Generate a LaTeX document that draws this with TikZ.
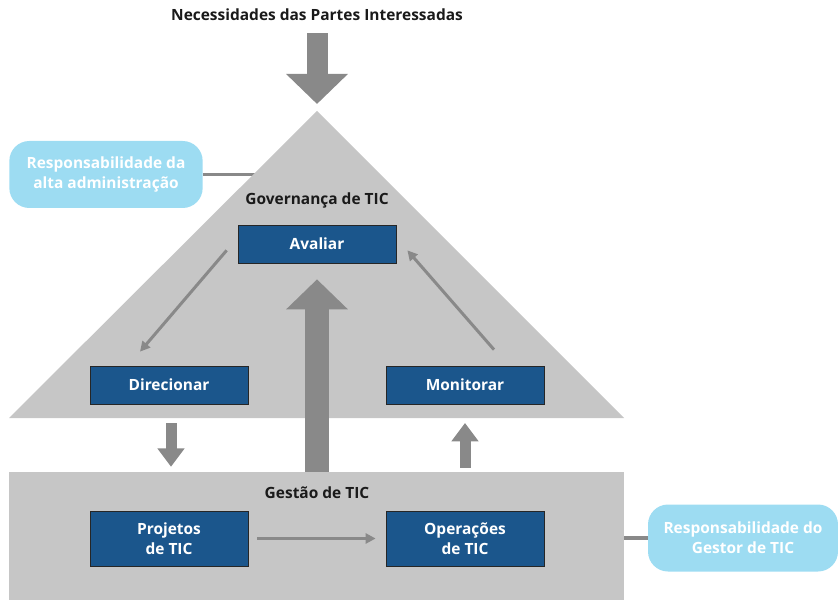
\documentclass[tikz,border=0pt]{standalone}
\usepackage{fontspec}
\setmainfont{Open Sans}
\usetikzlibrary{positioning, calc, arrows.meta}

\definecolor{govgray}{HTML}{C6C6C6}
\definecolor{arrowgray}{HTML}{898989}
\definecolor{boxblue}{HTML}{1B568C}
\definecolor{pillblue}{HTML}{9DDCF2}
\definecolor{labelblack}{HTML}{1A1A1A}

\tikzset{
  label text/.style={text=labelblack, font=\fontsize{13.2}{17}\selectfont\bfseries},
  procbox/.style={draw=black!85, line width=0.6pt, fill=boxblue, text=white, align=center,
    minimum width=4.74cm, minimum height=1.14cm, inner sep=0pt,
    font=\fontsize{13.2}{17}\selectfont\bfseries},
  pill/.style={fill=pillblue, text=white, align=center, rounded corners=0.6cm,
    minimum width=5.8cm, minimum height=2.01cm, inner sep=0pt,
    font=\fontsize{13.2}{17}\selectfont\bfseries},
  thinarrow/.style={arrowgray, line width=0.09cm, -{Triangle[length=0.3cm, width=0.3cm]}},
  fatarrow/.style={arrowgray, line width=0.7cm, -{Triangle[length=0.9cm, width=1.8cm]}},
  smallarrow/.style={arrowgray, line width=0.33cm, -{Triangle[length=0.55cm, width=0.78cm]}},
  tie/.style={arrowgray, line width=0.11cm}
}

\begin{document}
\begin{tikzpicture}[x=0.03cm, y=-0.03cm]
  \useasboundingbox (0,0) rectangle (838,600);

  % Responsabilidade da alta administracao
  \node[pill] (altaadm) at (106,174.5) {Responsabilidade da\\alta administração};
  \coordinate (apex) at (317,111);
  \coordinate (govL) at (9,418);
  \coordinate (govR) at (624,418);
  \draw[tie] (altaadm.east) -- (altaadm.east -| apex);

  % Governanca triangle
  \fill[govgray] (apex) -- (govR) -- (govL) -- cycle;
  \node[label text] (govlabel) at (317,200) {Governança de TIC};

  \node[procbox] (avaliar) at (317,244) {Avaliar};
  \node[procbox] (direcionar) at (169,385) {Direcionar};
  \node[procbox] (monitorar) at (465,385) {Monitorar};

  % Gestao rectangle
  \node[fill=govgray, minimum width=18.45cm, minimum height=3.9cm, inner sep=0pt] (gestao) at (316.5,537) {};
  \node[label text] (gestlabel) at (317,493) {Gestão de TIC};

  \node[procbox, minimum height=1.65cm] (projetos) at (169,538.5) {Projetos\\de TIC};
  \node[procbox, minimum height=1.65cm] (operacoes) at (465,538.5) {Operações\\de TIC};

  % Responsabilidade do gestor
  \node[pill, minimum width=5.7cm] (gestor) at (743,538) {Responsabilidade do\\Gestor de TIC};
  \draw[tie] (gestor.west) -- (gestor.west -| gestao.east);

  % Needs of stakeholders
  \node[label text] (needs) at (317,15) {Necessidades das Partes Interessadas};
  \draw[fatarrow, line width=0.63cm] (needs.south) ++(0,8) coordinate (needstop) -- ($(apex)+(0,-7)$);

  % Cycle arrows
  \draw[thinarrow] ($(avaliar.south west)+(-11,-13)$) -- ($(direcionar.north)+(-29,-14)$);
  \draw[thinarrow] ($(monitorar.north)+(29,-16)$) -- ($(avaliar.south east)+(11,-13)$);
  \draw[thinarrow] ($(projetos.east)+(9,0)$) -- ($(operacoes.west)+(-10,0)$);

  % Links between governance and management
  \draw[fatarrow] (avaliar |- gestao.north) -- ($(avaliar.south)+(0,16)$);
  \draw[smallarrow] ($(direcionar |- govL)+(2,5)$) -- ($(direcionar |- gestao.north)+(2,-5)$);
  \draw[smallarrow] ($(monitorar |- gestao.north)+(0,-4)$) -- ($(monitorar |- govR)+(0,5)$);
\end{tikzpicture}
\end{document}
